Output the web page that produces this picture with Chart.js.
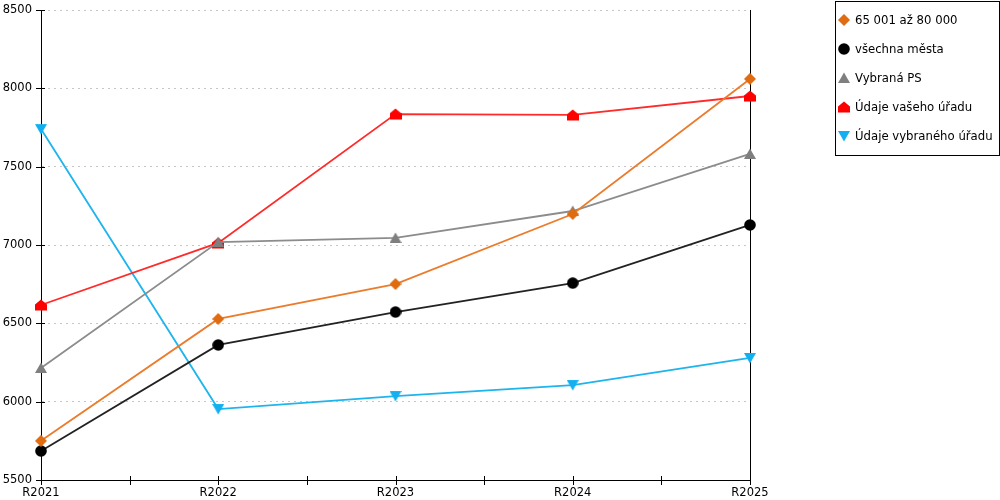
<!DOCTYPE html>
<html>
<head>
<meta charset="utf-8">
<script src="https://cdn.jsdelivr.net/npm/chart.js@4.4.1/dist/chart.umd.min.js"></script>
<style>
  html, body { margin: 0; padding: 0; background: #fff; }
  #wrap { position: relative; width: 1000px; height: 500px; }
  #legend {
    position: absolute; left: 835px; top: 1px; width: 163px; height: 153px;
    border: 1px solid #000; font: 11.7px "DejaVu Sans", sans-serif; color: #000;
  }
  #legend .item { position: absolute; left: 2px; height: 16px; line-height: 16px; white-space: nowrap; }
  #legend .item img { position: absolute; left: 0; top: 2px; }
  #legend .item span { position: absolute; left: 17px; top: 0; }
</style>
</head>
<body>
<div id="wrap">
  <canvas id="myChart" width="1000" height="500"></canvas>
  <div id="legend"></div>
</div>
<script>
// categories and values
const years = ['R2021', 'R2022', 'R2023', 'R2024', 'R2025'];
const yTicks = [5500, 6000, 6500, 7000, 7500, 8000, 8500];

const skupina = [5750, 6528, 6751, 7198, 8060];   // 65 001 až 80 000
const vsechna = [5685, 6362, 6572, 6757, 7128];   // všechna města
const vybranaPS = [6215, 7019, 7045, 7217, 7581];
const vasUrad = [6617, 7013, 7836, 7830, 7951];
const vybranyUrad = [7740, 5953, 6036, 6106, 6279];

// point markers drawn on small canvases
function marker(shape, color) {
  const c = document.createElement('canvas');
  c.width = 12; c.height = 12;
  const g = c.getContext('2d');
  g.fillStyle = color;
  g.beginPath();
  if (shape === 'diamond') {
    g.moveTo(6, 0); g.lineTo(12, 6); g.lineTo(6, 12); g.lineTo(0, 6);
  } else if (shape === 'circle') {
    g.arc(6, 6, 5.8, 0, Math.PI * 2);
  } else if (shape === 'up') {
    g.moveTo(6, 0.5); g.lineTo(12, 11); g.lineTo(0, 11);
  } else if (shape === 'down') {
    g.moveTo(0, 1); g.lineTo(12, 1); g.lineTo(6, 11.5);
  } else if (shape === 'house') {
    g.moveTo(6, 0.5); g.lineTo(12, 5.5); g.lineTo(12, 11.5); g.lineTo(0, 11.5); g.lineTo(0, 5.5);
  }
  g.closePath();
  g.fill();
  return c;
}

const series = [
  { label: '65 001 až 80 000', data: skupina, line: '#ea7c2c', point: marker('diamond', '#e06c12') },
  { label: 'všechna města', data: vsechna, line: '#222222', point: marker('circle', '#000000') },
  { label: 'Vybraná PS', data: vybranaPS, line: '#8c8c8c', point: marker('up', '#7f7f7f') },
  { label: 'Údaje vašeho úřadu', data: vasUrad, line: '#ff2a2a', point: marker('house', '#ff0000') },
  { label: 'Údaje vybraného úřadu', data: vybranyUrad, line: '#1eb4ee', point: marker('down', '#12b0f0') }
];

const axisTicks = {
  id: 'axisTicks',
  beforeDatasetsDraw(chart) {
    const ctx = chart.ctx, xs = chart.scales.x, ys = chart.scales.y;
    ctx.save();
    ctx.strokeStyle = '#000';
    ctx.lineWidth = 1;
    ctx.beginPath();
    // right border
    ctx.moveTo(Math.round(xs.right) + 0.5, ys.top);
    ctx.lineTo(Math.round(xs.right) + 0.5, ys.bottom);
    // y ticks crossing the axis
    yTicks.forEach(v => {
      const y = Math.round(ys.getPixelForValue(v)) + 0.5;
      ctx.moveTo(xs.left - 5, y);
      ctx.lineTo(xs.left + 4, y);
    });
    // x ticks at categories and between them
    for (let i = 0; i < years.length; i++) {
      const px = [xs.getPixelForValue(i)];
      if (i < years.length - 1) px.push((xs.getPixelForValue(i) + xs.getPixelForValue(i + 1)) / 2);
      px.forEach(p => {
        const x = Math.round(p) + 0.5;
        ctx.moveTo(x, ys.bottom - 4);
        ctx.lineTo(x, ys.bottom + 5);
      });
    }
    ctx.stroke();
    ctx.restore();
  }
};

new Chart(document.getElementById('myChart'), {
  type: 'line',
  data: {
    labels: years,
    datasets: series.map(s => ({
      label: s.label,
      data: s.data,
      borderColor: s.line,
      backgroundColor: s.line,
      borderWidth: 1.8,
      tension: 0,
      fill: false,
      pointStyle: s.point,
      pointRadius: 6,
      pointHoverRadius: 6,
      clip: false
    }))
  },
  options: {
    responsive: false,
    animation: false,
    devicePixelRatio: 1,
    layout: { padding: { top: 10, right: 250, left: 0, bottom: 0 } },
    plugins: { legend: { display: false }, tooltip: { enabled: false } },
    scales: {
      x: {
        type: 'category',
        offset: false,
        grid: { display: false, drawTicks: false },
        border: { display: true, color: '#000', width: 1 },
        ticks: { color: '#000', font: { family: 'DejaVu Sans', size: 11.5 }, padding: 6, maxRotation: 0 },
        afterFit: s => { s.height = 20; s.paddingLeft = 0; s.paddingRight = 0; }
      },
      y: {
        min: 5500,
        max: 8500,
        afterBuildTicks: s => { s.ticks = yTicks.map(v => ({ value: v })); },
        grid: {
          drawTicks: false,
          color: ctx => (ctx.tick && ctx.tick.value === 5500) ? 'transparent' : '#c6c6c6',
          lineWidth: 1
        },
        border: { display: true, color: '#000', width: 1, dash: [2, 4] },
        ticks: {
          color: '#000',
          font: { family: 'DejaVu Sans', size: 11.5 },
          padding: 9,
          callback: v => String(v)
        },
        afterFit: s => { s.width = 41; s.paddingTop = 0; s.paddingBottom = 0; }
      }
    }
  },
  plugins: [axisTicks]
});

// legend box at the right
const legend = document.getElementById('legend');
series.forEach((s, i) => {
  const item = document.createElement('div');
  item.className = 'item';
  item.style.top = (10 + i * 29) + 'px';
  const img = document.createElement('img');
  img.src = s.point.toDataURL();
  const txt = document.createElement('span');
  txt.textContent = s.label;
  item.appendChild(img);
  item.appendChild(txt);
  legend.appendChild(item);
});
</script>
</body>
</html>
